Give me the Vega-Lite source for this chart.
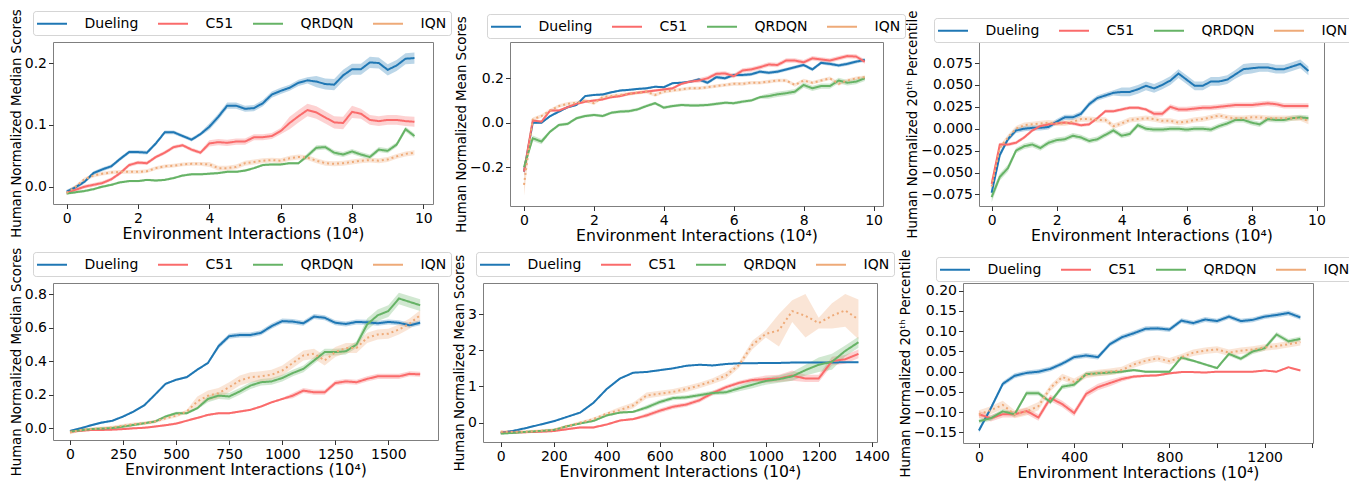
{
"background":"white",
"padding":{"left":8,"top":8,"right":5,"bottom":0},
"config":{
 "font":"DejaVu Sans",
 "view":{"stroke":"#7f7f7f","strokeWidth":1},
 "axis":{"grid":false,"domain":false,"labelFontSize":14,"labelColor":"#000","tickColor":"#333","tickSize":4.5,"labelPadding":2,"titleFontWeight":"normal","titleColor":"#000","labelFont":"DejaVu Sans","titleFont":"DejaVu Sans"},
 "axisX":{"titleFontSize":15.7,"titlePadding":1,"labelPadding":3},
 "axisY":{"titleFontSize":13.3,"titlePadding":1},
 "legend":{"symbolType":"M-2,0H2","symbolSize":225,"symbolOffset":6.5,"symbolStrokeWidth":2,"labelFontSize":14,"labelFont":"DejaVu Sans","labelColor":"#000","labelOffset":24,"columnPadding":15,"padding":4,"strokeColor":"#d5d5d5","cornerRadius":3,"fillColor":"#ffffff"}
},
"data":{"values":[
{"p":1,"a":"Dueling","x":0,"y":-0.008,"e":0.003},{"p":1,"a":"Dueling","x":0.25,"y":-0.001,"e":0.003},{"p":1,"a":"Dueling","x":0.5,"y":0.008,"e":0.003},{"p":1,"a":"Dueling","x":0.75,"y":0.022,"e":0.003},{"p":1,"a":"Dueling","x":1,"y":0.028,"e":0.003},{"p":1,"a":"Dueling","x":1.25,"y":0.033,"e":0.003},{"p":1,"a":"Dueling","x":1.5,"y":0.045,"e":0.003},{"p":1,"a":"Dueling","x":1.75,"y":0.056,"e":0.003},{"p":1,"a":"Dueling","x":2,"y":0.056,"e":0.003},{"p":1,"a":"Dueling","x":2.25,"y":0.055,"e":0.003},{"p":1,"a":"Dueling","x":2.5,"y":0.07,"e":0.003},{"p":1,"a":"Dueling","x":2.75,"y":0.088,"e":0.003},{"p":1,"a":"Dueling","x":3,"y":0.088,"e":0.003},{"p":1,"a":"Dueling","x":3.25,"y":0.082,"e":0.003},{"p":1,"a":"Dueling","x":3.5,"y":0.076,"e":0.003},{"p":1,"a":"Dueling","x":3.75,"y":0.085,"e":0.003},{"p":1,"a":"Dueling","x":4,"y":0.097,"e":0.005},{"p":1,"a":"Dueling","x":4.25,"y":0.113,"e":0.005},{"p":1,"a":"Dueling","x":4.5,"y":0.131,"e":0.005},{"p":1,"a":"Dueling","x":4.75,"y":0.131,"e":0.005},{"p":1,"a":"Dueling","x":5,"y":0.126,"e":0.005},{"p":1,"a":"Dueling","x":5.25,"y":0.127,"e":0.005},{"p":1,"a":"Dueling","x":5.5,"y":0.135,"e":0.005},{"p":1,"a":"Dueling","x":5.75,"y":0.149,"e":0.005},{"p":1,"a":"Dueling","x":6,"y":0.155,"e":0.005},{"p":1,"a":"Dueling","x":6.25,"y":0.16,"e":0.005},{"p":1,"a":"Dueling","x":6.5,"y":0.168,"e":0.005},{"p":1,"a":"Dueling","x":6.75,"y":0.172,"e":0.005},{"p":1,"a":"Dueling","x":7,"y":0.17,"e":0.009},{"p":1,"a":"Dueling","x":7.25,"y":0.166,"e":0.009},{"p":1,"a":"Dueling","x":7.5,"y":0.165,"e":0.009},{"p":1,"a":"Dueling","x":7.75,"y":0.18,"e":0.009},{"p":1,"a":"Dueling","x":8,"y":0.19,"e":0.009},{"p":1,"a":"Dueling","x":8.25,"y":0.19,"e":0.009},{"p":1,"a":"Dueling","x":8.5,"y":0.201,"e":0.009},{"p":1,"a":"Dueling","x":8.75,"y":0.2,"e":0.009},{"p":1,"a":"Dueling","x":9,"y":0.189,"e":0.009},{"p":1,"a":"Dueling","x":9.25,"y":0.196,"e":0.009},{"p":1,"a":"Dueling","x":9.5,"y":0.207,"e":0.009},{"p":1,"a":"Dueling","x":9.75,"y":0.208,"e":0.009},
{"p":1,"a":"C51","x":0,"y":-0.01,"e":0.003},{"p":1,"a":"C51","x":0.25,"y":-0.005,"e":0.003},{"p":1,"a":"C51","x":0.5,"y":0.0,"e":0.003},{"p":1,"a":"C51","x":0.75,"y":0.003,"e":0.003},{"p":1,"a":"C51","x":1,"y":0.006,"e":0.003},{"p":1,"a":"C51","x":1.25,"y":0.012,"e":0.003},{"p":1,"a":"C51","x":1.5,"y":0.022,"e":0.003},{"p":1,"a":"C51","x":1.75,"y":0.035,"e":0.003},{"p":1,"a":"C51","x":2,"y":0.039,"e":0.003},{"p":1,"a":"C51","x":2.25,"y":0.038,"e":0.003},{"p":1,"a":"C51","x":2.5,"y":0.048,"e":0.003},{"p":1,"a":"C51","x":2.75,"y":0.055,"e":0.003},{"p":1,"a":"C51","x":3,"y":0.064,"e":0.003},{"p":1,"a":"C51","x":3.25,"y":0.067,"e":0.003},{"p":1,"a":"C51","x":3.5,"y":0.06,"e":0.003},{"p":1,"a":"C51","x":3.75,"y":0.055,"e":0.003},{"p":1,"a":"C51","x":4,"y":0.07,"e":0.005},{"p":1,"a":"C51","x":4.25,"y":0.072,"e":0.005},{"p":1,"a":"C51","x":4.5,"y":0.071,"e":0.005},{"p":1,"a":"C51","x":4.75,"y":0.073,"e":0.005},{"p":1,"a":"C51","x":5,"y":0.073,"e":0.005},{"p":1,"a":"C51","x":5.25,"y":0.08,"e":0.005},{"p":1,"a":"C51","x":5.5,"y":0.08,"e":0.005},{"p":1,"a":"C51","x":5.75,"y":0.082,"e":0.005},{"p":1,"a":"C51","x":6,"y":0.09,"e":0.005},{"p":1,"a":"C51","x":6.25,"y":0.103,"e":0.01},{"p":1,"a":"C51","x":6.5,"y":0.114,"e":0.01},{"p":1,"a":"C51","x":6.75,"y":0.124,"e":0.01},{"p":1,"a":"C51","x":7,"y":0.12,"e":0.01},{"p":1,"a":"C51","x":7.25,"y":0.112,"e":0.01},{"p":1,"a":"C51","x":7.5,"y":0.104,"e":0.01},{"p":1,"a":"C51","x":7.75,"y":0.103,"e":0.01},{"p":1,"a":"C51","x":8,"y":0.121,"e":0.01},{"p":1,"a":"C51","x":8.25,"y":0.118,"e":0.008},{"p":1,"a":"C51","x":8.5,"y":0.108,"e":0.008},{"p":1,"a":"C51","x":8.75,"y":0.106,"e":0.008},{"p":1,"a":"C51","x":9,"y":0.108,"e":0.008},{"p":1,"a":"C51","x":9.25,"y":0.108,"e":0.008},{"p":1,"a":"C51","x":9.5,"y":0.106,"e":0.008},{"p":1,"a":"C51","x":9.75,"y":0.105,"e":0.008},
{"p":1,"a":"QRDQN","x":0,"y":-0.011,"e":0.002},{"p":1,"a":"QRDQN","x":0.25,"y":-0.009,"e":0.002},{"p":1,"a":"QRDQN","x":0.5,"y":-0.007,"e":0.002},{"p":1,"a":"QRDQN","x":0.75,"y":-0.004,"e":0.002},{"p":1,"a":"QRDQN","x":1,"y":0.0,"e":0.002},{"p":1,"a":"QRDQN","x":1.25,"y":0.003,"e":0.002},{"p":1,"a":"QRDQN","x":1.5,"y":0.007,"e":0.002},{"p":1,"a":"QRDQN","x":1.75,"y":0.009,"e":0.002},{"p":1,"a":"QRDQN","x":2,"y":0.009,"e":0.002},{"p":1,"a":"QRDQN","x":2.25,"y":0.011,"e":0.002},{"p":1,"a":"QRDQN","x":2.5,"y":0.01,"e":0.002},{"p":1,"a":"QRDQN","x":2.75,"y":0.011,"e":0.002},{"p":1,"a":"QRDQN","x":3,"y":0.014,"e":0.002},{"p":1,"a":"QRDQN","x":3.25,"y":0.018,"e":0.002},{"p":1,"a":"QRDQN","x":3.5,"y":0.02,"e":0.002},{"p":1,"a":"QRDQN","x":3.75,"y":0.02,"e":0.002},{"p":1,"a":"QRDQN","x":4,"y":0.021,"e":0.002},{"p":1,"a":"QRDQN","x":4.25,"y":0.022,"e":0.002},{"p":1,"a":"QRDQN","x":4.5,"y":0.024,"e":0.002},{"p":1,"a":"QRDQN","x":4.75,"y":0.024,"e":0.002},{"p":1,"a":"QRDQN","x":5,"y":0.026,"e":0.002},{"p":1,"a":"QRDQN","x":5.25,"y":0.03,"e":0.002},{"p":1,"a":"QRDQN","x":5.5,"y":0.035,"e":0.002},{"p":1,"a":"QRDQN","x":5.75,"y":0.036,"e":0.002},{"p":1,"a":"QRDQN","x":6,"y":0.036,"e":0.002},{"p":1,"a":"QRDQN","x":6.25,"y":0.038,"e":0.002},{"p":1,"a":"QRDQN","x":6.5,"y":0.038,"e":0.002},{"p":1,"a":"QRDQN","x":6.75,"y":0.05,"e":0.004},{"p":1,"a":"QRDQN","x":7,"y":0.063,"e":0.004},{"p":1,"a":"QRDQN","x":7.25,"y":0.064,"e":0.004},{"p":1,"a":"QRDQN","x":7.5,"y":0.055,"e":0.004},{"p":1,"a":"QRDQN","x":7.75,"y":0.052,"e":0.004},{"p":1,"a":"QRDQN","x":8,"y":0.057,"e":0.004},{"p":1,"a":"QRDQN","x":8.25,"y":0.052,"e":0.004},{"p":1,"a":"QRDQN","x":8.5,"y":0.048,"e":0.004},{"p":1,"a":"QRDQN","x":8.75,"y":0.06,"e":0.004},{"p":1,"a":"QRDQN","x":9,"y":0.058,"e":0.004},{"p":1,"a":"QRDQN","x":9.25,"y":0.068,"e":0.004},{"p":1,"a":"QRDQN","x":9.5,"y":0.093,"e":0.004},{"p":1,"a":"QRDQN","x":9.75,"y":0.082,"e":0.004},
{"p":1,"a":"IQN","x":0,"y":-0.01,"e":0.003},{"p":1,"a":"IQN","x":0.25,"y":0.0,"e":0.003},{"p":1,"a":"IQN","x":0.5,"y":0.012,"e":0.003},{"p":1,"a":"IQN","x":0.75,"y":0.018,"e":0.003},{"p":1,"a":"IQN","x":1,"y":0.021,"e":0.003},{"p":1,"a":"IQN","x":1.25,"y":0.023,"e":0.003},{"p":1,"a":"IQN","x":1.5,"y":0.024,"e":0.003},{"p":1,"a":"IQN","x":1.75,"y":0.024,"e":0.003},{"p":1,"a":"IQN","x":2,"y":0.024,"e":0.003},{"p":1,"a":"IQN","x":2.25,"y":0.025,"e":0.003},{"p":1,"a":"IQN","x":2.5,"y":0.03,"e":0.003},{"p":1,"a":"IQN","x":2.75,"y":0.033,"e":0.003},{"p":1,"a":"IQN","x":3,"y":0.034,"e":0.003},{"p":1,"a":"IQN","x":3.25,"y":0.036,"e":0.003},{"p":1,"a":"IQN","x":3.5,"y":0.037,"e":0.003},{"p":1,"a":"IQN","x":3.75,"y":0.037,"e":0.003},{"p":1,"a":"IQN","x":4,"y":0.036,"e":0.004},{"p":1,"a":"IQN","x":4.25,"y":0.03,"e":0.004},{"p":1,"a":"IQN","x":4.5,"y":0.03,"e":0.004},{"p":1,"a":"IQN","x":4.75,"y":0.032,"e":0.004},{"p":1,"a":"IQN","x":5,"y":0.038,"e":0.004},{"p":1,"a":"IQN","x":5.25,"y":0.04,"e":0.004},{"p":1,"a":"IQN","x":5.5,"y":0.042,"e":0.004},{"p":1,"a":"IQN","x":5.75,"y":0.043,"e":0.004},{"p":1,"a":"IQN","x":6,"y":0.042,"e":0.004},{"p":1,"a":"IQN","x":6.25,"y":0.046,"e":0.004},{"p":1,"a":"IQN","x":6.5,"y":0.048,"e":0.004},{"p":1,"a":"IQN","x":6.75,"y":0.047,"e":0.004},{"p":1,"a":"IQN","x":7,"y":0.042,"e":0.004},{"p":1,"a":"IQN","x":7.25,"y":0.038,"e":0.004},{"p":1,"a":"IQN","x":7.5,"y":0.037,"e":0.004},{"p":1,"a":"IQN","x":7.75,"y":0.038,"e":0.004},{"p":1,"a":"IQN","x":8,"y":0.04,"e":0.004},{"p":1,"a":"IQN","x":8.25,"y":0.042,"e":0.004},{"p":1,"a":"IQN","x":8.5,"y":0.043,"e":0.004},{"p":1,"a":"IQN","x":8.75,"y":0.042,"e":0.004},{"p":1,"a":"IQN","x":9,"y":0.044,"e":0.004},{"p":1,"a":"IQN","x":9.25,"y":0.049,"e":0.004},{"p":1,"a":"IQN","x":9.5,"y":0.053,"e":0.004},{"p":1,"a":"IQN","x":9.75,"y":0.055,"e":0.004},
{"p":2,"a":"Dueling","x":0,"y":-0.22,"e":0.02},{"p":2,"a":"Dueling","x":0.25,"y":0.0,"e":0.005},{"p":2,"a":"Dueling","x":0.5,"y":0.0,"e":0.005},{"p":2,"a":"Dueling","x":0.75,"y":0.03,"e":0.005},{"p":2,"a":"Dueling","x":1,"y":0.05,"e":0.005},{"p":2,"a":"Dueling","x":1.25,"y":0.07,"e":0.005},{"p":2,"a":"Dueling","x":1.5,"y":0.08,"e":0.005},{"p":2,"a":"Dueling","x":1.75,"y":0.12,"e":0.005},{"p":2,"a":"Dueling","x":2,"y":0.125,"e":0.005},{"p":2,"a":"Dueling","x":2.25,"y":0.127,"e":0.005},{"p":2,"a":"Dueling","x":2.5,"y":0.137,"e":0.005},{"p":2,"a":"Dueling","x":2.75,"y":0.145,"e":0.005},{"p":2,"a":"Dueling","x":3,"y":0.148,"e":0.005},{"p":2,"a":"Dueling","x":3.25,"y":0.152,"e":0.005},{"p":2,"a":"Dueling","x":3.5,"y":0.155,"e":0.005},{"p":2,"a":"Dueling","x":3.75,"y":0.162,"e":0.005},{"p":2,"a":"Dueling","x":4,"y":0.16,"e":0.005},{"p":2,"a":"Dueling","x":4.25,"y":0.178,"e":0.005},{"p":2,"a":"Dueling","x":4.5,"y":0.18,"e":0.005},{"p":2,"a":"Dueling","x":4.75,"y":0.185,"e":0.005},{"p":2,"a":"Dueling","x":5,"y":0.195,"e":0.008},{"p":2,"a":"Dueling","x":5.25,"y":0.18,"e":0.008},{"p":2,"a":"Dueling","x":5.5,"y":0.205,"e":0.008},{"p":2,"a":"Dueling","x":5.75,"y":0.2,"e":0.008},{"p":2,"a":"Dueling","x":6,"y":0.215,"e":0.008},{"p":2,"a":"Dueling","x":6.25,"y":0.215,"e":0.008},{"p":2,"a":"Dueling","x":6.5,"y":0.218,"e":0.008},{"p":2,"a":"Dueling","x":6.75,"y":0.23,"e":0.008},{"p":2,"a":"Dueling","x":7,"y":0.225,"e":0.008},{"p":2,"a":"Dueling","x":7.25,"y":0.23,"e":0.008},{"p":2,"a":"Dueling","x":7.5,"y":0.24,"e":0.008},{"p":2,"a":"Dueling","x":7.75,"y":0.25,"e":0.008},{"p":2,"a":"Dueling","x":8,"y":0.26,"e":0.008},{"p":2,"a":"Dueling","x":8.25,"y":0.24,"e":0.008},{"p":2,"a":"Dueling","x":8.5,"y":0.27,"e":0.008},{"p":2,"a":"Dueling","x":8.75,"y":0.265,"e":0.008},{"p":2,"a":"Dueling","x":9,"y":0.258,"e":0.008},{"p":2,"a":"Dueling","x":9.25,"y":0.265,"e":0.008},{"p":2,"a":"Dueling","x":9.5,"y":0.275,"e":0.008},{"p":2,"a":"Dueling","x":9.75,"y":0.283,"e":0.008},
{"p":2,"a":"C51","x":0,"y":-0.22,"e":0.02},{"p":2,"a":"C51","x":0.25,"y":0.01,"e":0.006},{"p":2,"a":"C51","x":0.5,"y":0.005,"e":0.006},{"p":2,"a":"C51","x":0.75,"y":0.055,"e":0.006},{"p":2,"a":"C51","x":1,"y":0.055,"e":0.006},{"p":2,"a":"C51","x":1.25,"y":0.07,"e":0.006},{"p":2,"a":"C51","x":1.5,"y":0.085,"e":0.006},{"p":2,"a":"C51","x":1.75,"y":0.095,"e":0.006},{"p":2,"a":"C51","x":2,"y":0.1,"e":0.006},{"p":2,"a":"C51","x":2.25,"y":0.105,"e":0.006},{"p":2,"a":"C51","x":2.5,"y":0.115,"e":0.006},{"p":2,"a":"C51","x":2.75,"y":0.12,"e":0.006},{"p":2,"a":"C51","x":3,"y":0.13,"e":0.006},{"p":2,"a":"C51","x":3.25,"y":0.135,"e":0.006},{"p":2,"a":"C51","x":3.5,"y":0.14,"e":0.006},{"p":2,"a":"C51","x":3.75,"y":0.145,"e":0.006},{"p":2,"a":"C51","x":4,"y":0.15,"e":0.006},{"p":2,"a":"C51","x":4.25,"y":0.155,"e":0.006},{"p":2,"a":"C51","x":4.5,"y":0.175,"e":0.006},{"p":2,"a":"C51","x":4.75,"y":0.185,"e":0.006},{"p":2,"a":"C51","x":5,"y":0.19,"e":0.01},{"p":2,"a":"C51","x":5.25,"y":0.2,"e":0.01},{"p":2,"a":"C51","x":5.5,"y":0.22,"e":0.01},{"p":2,"a":"C51","x":5.75,"y":0.222,"e":0.01},{"p":2,"a":"C51","x":6,"y":0.21,"e":0.01},{"p":2,"a":"C51","x":6.25,"y":0.235,"e":0.01},{"p":2,"a":"C51","x":6.5,"y":0.24,"e":0.01},{"p":2,"a":"C51","x":6.75,"y":0.25,"e":0.01},{"p":2,"a":"C51","x":7,"y":0.262,"e":0.01},{"p":2,"a":"C51","x":7.25,"y":0.26,"e":0.01},{"p":2,"a":"C51","x":7.5,"y":0.28,"e":0.01},{"p":2,"a":"C51","x":7.75,"y":0.28,"e":0.01},{"p":2,"a":"C51","x":8,"y":0.272,"e":0.01},{"p":2,"a":"C51","x":8.25,"y":0.29,"e":0.01},{"p":2,"a":"C51","x":8.5,"y":0.285,"e":0.01},{"p":2,"a":"C51","x":8.75,"y":0.28,"e":0.01},{"p":2,"a":"C51","x":9,"y":0.29,"e":0.01},{"p":2,"a":"C51","x":9.25,"y":0.3,"e":0.01},{"p":2,"a":"C51","x":9.5,"y":0.298,"e":0.01},{"p":2,"a":"C51","x":9.75,"y":0.275,"e":0.01},
{"p":2,"a":"QRDQN","x":0,"y":-0.2,"e":0.02},{"p":2,"a":"QRDQN","x":0.25,"y":-0.07,"e":0.012},{"p":2,"a":"QRDQN","x":0.5,"y":-0.085,"e":0.012},{"p":2,"a":"QRDQN","x":0.75,"y":-0.04,"e":0.007},{"p":2,"a":"QRDQN","x":1,"y":-0.01,"e":0.007},{"p":2,"a":"QRDQN","x":1.25,"y":-0.005,"e":0.007},{"p":2,"a":"QRDQN","x":1.5,"y":0.02,"e":0.007},{"p":2,"a":"QRDQN","x":1.75,"y":0.03,"e":0.007},{"p":2,"a":"QRDQN","x":2,"y":0.035,"e":0.007},{"p":2,"a":"QRDQN","x":2.25,"y":0.03,"e":0.007},{"p":2,"a":"QRDQN","x":2.5,"y":0.045,"e":0.007},{"p":2,"a":"QRDQN","x":2.75,"y":0.05,"e":0.007},{"p":2,"a":"QRDQN","x":3,"y":0.052,"e":0.007},{"p":2,"a":"QRDQN","x":3.25,"y":0.06,"e":0.007},{"p":2,"a":"QRDQN","x":3.5,"y":0.075,"e":0.007},{"p":2,"a":"QRDQN","x":3.75,"y":0.088,"e":0.007},{"p":2,"a":"QRDQN","x":4,"y":0.068,"e":0.007},{"p":2,"a":"QRDQN","x":4.25,"y":0.075,"e":0.007},{"p":2,"a":"QRDQN","x":4.5,"y":0.08,"e":0.007},{"p":2,"a":"QRDQN","x":4.75,"y":0.078,"e":0.007},{"p":2,"a":"QRDQN","x":5,"y":0.078,"e":0.007},{"p":2,"a":"QRDQN","x":5.25,"y":0.08,"e":0.007},{"p":2,"a":"QRDQN","x":5.5,"y":0.085,"e":0.007},{"p":2,"a":"QRDQN","x":5.75,"y":0.09,"e":0.007},{"p":2,"a":"QRDQN","x":6,"y":0.088,"e":0.007},{"p":2,"a":"QRDQN","x":6.25,"y":0.095,"e":0.007},{"p":2,"a":"QRDQN","x":6.5,"y":0.1,"e":0.007},{"p":2,"a":"QRDQN","x":6.75,"y":0.115,"e":0.007},{"p":2,"a":"QRDQN","x":7,"y":0.12,"e":0.012},{"p":2,"a":"QRDQN","x":7.25,"y":0.128,"e":0.012},{"p":2,"a":"QRDQN","x":7.5,"y":0.133,"e":0.012},{"p":2,"a":"QRDQN","x":7.75,"y":0.14,"e":0.012},{"p":2,"a":"QRDQN","x":8,"y":0.17,"e":0.012},{"p":2,"a":"QRDQN","x":8.25,"y":0.155,"e":0.012},{"p":2,"a":"QRDQN","x":8.5,"y":0.165,"e":0.012},{"p":2,"a":"QRDQN","x":8.75,"y":0.165,"e":0.012},{"p":2,"a":"QRDQN","x":9,"y":0.19,"e":0.012},{"p":2,"a":"QRDQN","x":9.25,"y":0.18,"e":0.012},{"p":2,"a":"QRDQN","x":9.5,"y":0.185,"e":0.012},{"p":2,"a":"QRDQN","x":9.75,"y":0.2,"e":0.012},
{"p":2,"a":"IQN","x":0,"y":-0.28,"e":0.05},{"p":2,"a":"IQN","x":0.25,"y":0.015,"e":0.008},{"p":2,"a":"IQN","x":0.5,"y":0.03,"e":0.008},{"p":2,"a":"IQN","x":0.75,"y":0.055,"e":0.008},{"p":2,"a":"IQN","x":1,"y":0.075,"e":0.008},{"p":2,"a":"IQN","x":1.25,"y":0.085,"e":0.008},{"p":2,"a":"IQN","x":1.5,"y":0.09,"e":0.008},{"p":2,"a":"IQN","x":1.75,"y":0.1,"e":0.008},{"p":2,"a":"IQN","x":2,"y":0.088,"e":0.008},{"p":2,"a":"IQN","x":2.25,"y":0.115,"e":0.008},{"p":2,"a":"IQN","x":2.5,"y":0.12,"e":0.008},{"p":2,"a":"IQN","x":2.75,"y":0.125,"e":0.008},{"p":2,"a":"IQN","x":3,"y":0.13,"e":0.008},{"p":2,"a":"IQN","x":3.25,"y":0.135,"e":0.008},{"p":2,"a":"IQN","x":3.5,"y":0.14,"e":0.008},{"p":2,"a":"IQN","x":3.75,"y":0.125,"e":0.008},{"p":2,"a":"IQN","x":4,"y":0.14,"e":0.008},{"p":2,"a":"IQN","x":4.25,"y":0.145,"e":0.008},{"p":2,"a":"IQN","x":4.5,"y":0.15,"e":0.008},{"p":2,"a":"IQN","x":4.75,"y":0.155,"e":0.008},{"p":2,"a":"IQN","x":5,"y":0.155,"e":0.008},{"p":2,"a":"IQN","x":5.25,"y":0.16,"e":0.008},{"p":2,"a":"IQN","x":5.5,"y":0.165,"e":0.008},{"p":2,"a":"IQN","x":5.75,"y":0.17,"e":0.008},{"p":2,"a":"IQN","x":6,"y":0.175,"e":0.008},{"p":2,"a":"IQN","x":6.25,"y":0.175,"e":0.008},{"p":2,"a":"IQN","x":6.5,"y":0.18,"e":0.008},{"p":2,"a":"IQN","x":6.75,"y":0.18,"e":0.008},{"p":2,"a":"IQN","x":7,"y":0.185,"e":0.008},{"p":2,"a":"IQN","x":7.25,"y":0.19,"e":0.008},{"p":2,"a":"IQN","x":7.5,"y":0.19,"e":0.008},{"p":2,"a":"IQN","x":7.75,"y":0.17,"e":0.008},{"p":2,"a":"IQN","x":8,"y":0.19,"e":0.008},{"p":2,"a":"IQN","x":8.25,"y":0.18,"e":0.008},{"p":2,"a":"IQN","x":8.5,"y":0.19,"e":0.008},{"p":2,"a":"IQN","x":8.75,"y":0.2,"e":0.008},{"p":2,"a":"IQN","x":9,"y":0.175,"e":0.008},{"p":2,"a":"IQN","x":9.25,"y":0.19,"e":0.008},{"p":2,"a":"IQN","x":9.5,"y":0.2,"e":0.008},{"p":2,"a":"IQN","x":9.75,"y":0.205,"e":0.008},
{"p":3,"a":"Dueling","x":0,"y":-0.073,"e":0.003},{"p":3,"a":"Dueling","x":0.25,"y":-0.03,"e":0.003},{"p":3,"a":"Dueling","x":0.5,"y":-0.012,"e":0.003},{"p":3,"a":"Dueling","x":0.75,"y":-0.002,"e":0.003},{"p":3,"a":"Dueling","x":1,"y":0.0,"e":0.003},{"p":3,"a":"Dueling","x":1.25,"y":0.001,"e":0.003},{"p":3,"a":"Dueling","x":1.5,"y":0.001,"e":0.003},{"p":3,"a":"Dueling","x":1.75,"y":0.002,"e":0.003},{"p":3,"a":"Dueling","x":2,"y":0.008,"e":0.003},{"p":3,"a":"Dueling","x":2.25,"y":0.013,"e":0.003},{"p":3,"a":"Dueling","x":2.5,"y":0.013,"e":0.003},{"p":3,"a":"Dueling","x":2.75,"y":0.017,"e":0.003},{"p":3,"a":"Dueling","x":3,"y":0.028,"e":0.003},{"p":3,"a":"Dueling","x":3.25,"y":0.035,"e":0.003},{"p":3,"a":"Dueling","x":3.5,"y":0.038,"e":0.003},{"p":3,"a":"Dueling","x":3.75,"y":0.041,"e":0.003},{"p":3,"a":"Dueling","x":4,"y":0.042,"e":0.005},{"p":3,"a":"Dueling","x":4.25,"y":0.042,"e":0.005},{"p":3,"a":"Dueling","x":4.5,"y":0.045,"e":0.005},{"p":3,"a":"Dueling","x":4.75,"y":0.049,"e":0.005},{"p":3,"a":"Dueling","x":5,"y":0.046,"e":0.005},{"p":3,"a":"Dueling","x":5.25,"y":0.05,"e":0.005},{"p":3,"a":"Dueling","x":5.5,"y":0.055,"e":0.005},{"p":3,"a":"Dueling","x":5.75,"y":0.063,"e":0.005},{"p":3,"a":"Dueling","x":6,"y":0.056,"e":0.005},{"p":3,"a":"Dueling","x":6.25,"y":0.049,"e":0.005},{"p":3,"a":"Dueling","x":6.5,"y":0.049,"e":0.005},{"p":3,"a":"Dueling","x":6.75,"y":0.054,"e":0.005},{"p":3,"a":"Dueling","x":7,"y":0.054,"e":0.005},{"p":3,"a":"Dueling","x":7.25,"y":0.056,"e":0.005},{"p":3,"a":"Dueling","x":7.5,"y":0.062,"e":0.005},{"p":3,"a":"Dueling","x":7.75,"y":0.068,"e":0.006},{"p":3,"a":"Dueling","x":8,"y":0.069,"e":0.006},{"p":3,"a":"Dueling","x":8.25,"y":0.07,"e":0.005},{"p":3,"a":"Dueling","x":8.5,"y":0.07,"e":0.005},{"p":3,"a":"Dueling","x":8.75,"y":0.068,"e":0.005},{"p":3,"a":"Dueling","x":9,"y":0.068,"e":0.005},{"p":3,"a":"Dueling","x":9.25,"y":0.071,"e":0.005},{"p":3,"a":"Dueling","x":9.5,"y":0.074,"e":0.005},{"p":3,"a":"Dueling","x":9.75,"y":0.066,"e":0.005},
{"p":3,"a":"C51","x":0,"y":-0.063,"e":0.005},{"p":3,"a":"C51","x":0.25,"y":-0.018,"e":0.002},{"p":3,"a":"C51","x":0.5,"y":-0.018,"e":0.002},{"p":3,"a":"C51","x":0.75,"y":-0.016,"e":0.002},{"p":3,"a":"C51","x":1,"y":-0.01,"e":0.002},{"p":3,"a":"C51","x":1.25,"y":-0.002,"e":0.002},{"p":3,"a":"C51","x":1.5,"y":0.003,"e":0.002},{"p":3,"a":"C51","x":1.75,"y":0.005,"e":0.002},{"p":3,"a":"C51","x":2,"y":0.006,"e":0.002},{"p":3,"a":"C51","x":2.25,"y":0.007,"e":0.002},{"p":3,"a":"C51","x":2.5,"y":0.006,"e":0.002},{"p":3,"a":"C51","x":2.75,"y":0.004,"e":0.002},{"p":3,"a":"C51","x":3,"y":0.005,"e":0.002},{"p":3,"a":"C51","x":3.25,"y":0.012,"e":0.002},{"p":3,"a":"C51","x":3.5,"y":0.02,"e":0.002},{"p":3,"a":"C51","x":3.75,"y":0.02,"e":0.002},{"p":3,"a":"C51","x":4,"y":0.022,"e":0.002},{"p":3,"a":"C51","x":4.25,"y":0.024,"e":0.002},{"p":3,"a":"C51","x":4.5,"y":0.024,"e":0.002},{"p":3,"a":"C51","x":4.75,"y":0.022,"e":0.002},{"p":3,"a":"C51","x":5,"y":0.017,"e":0.003},{"p":3,"a":"C51","x":5.25,"y":0.017,"e":0.003},{"p":3,"a":"C51","x":5.5,"y":0.025,"e":0.003},{"p":3,"a":"C51","x":5.75,"y":0.022,"e":0.003},{"p":3,"a":"C51","x":6,"y":0.022,"e":0.003},{"p":3,"a":"C51","x":6.25,"y":0.023,"e":0.003},{"p":3,"a":"C51","x":6.5,"y":0.024,"e":0.003},{"p":3,"a":"C51","x":6.75,"y":0.024,"e":0.003},{"p":3,"a":"C51","x":7,"y":0.025,"e":0.003},{"p":3,"a":"C51","x":7.25,"y":0.026,"e":0.003},{"p":3,"a":"C51","x":7.5,"y":0.027,"e":0.003},{"p":3,"a":"C51","x":7.75,"y":0.027,"e":0.003},{"p":3,"a":"C51","x":8,"y":0.027,"e":0.003},{"p":3,"a":"C51","x":8.25,"y":0.028,"e":0.003},{"p":3,"a":"C51","x":8.5,"y":0.029,"e":0.003},{"p":3,"a":"C51","x":8.75,"y":0.028,"e":0.003},{"p":3,"a":"C51","x":9,"y":0.026,"e":0.003},{"p":3,"a":"C51","x":9.25,"y":0.026,"e":0.003},{"p":3,"a":"C51","x":9.5,"y":0.026,"e":0.003},{"p":3,"a":"C51","x":9.75,"y":0.026,"e":0.003},
{"p":3,"a":"QRDQN","x":0,"y":-0.078,"e":0.006},{"p":3,"a":"QRDQN","x":0.25,"y":-0.055,"e":0.004},{"p":3,"a":"QRDQN","x":0.5,"y":-0.045,"e":0.004},{"p":3,"a":"QRDQN","x":0.75,"y":-0.025,"e":0.003},{"p":3,"a":"QRDQN","x":1,"y":-0.02,"e":0.003},{"p":3,"a":"QRDQN","x":1.25,"y":-0.018,"e":0.003},{"p":3,"a":"QRDQN","x":1.5,"y":-0.022,"e":0.003},{"p":3,"a":"QRDQN","x":1.75,"y":-0.016,"e":0.003},{"p":3,"a":"QRDQN","x":2,"y":-0.013,"e":0.003},{"p":3,"a":"QRDQN","x":2.25,"y":-0.012,"e":0.003},{"p":3,"a":"QRDQN","x":2.5,"y":-0.008,"e":0.003},{"p":3,"a":"QRDQN","x":2.75,"y":-0.01,"e":0.003},{"p":3,"a":"QRDQN","x":3,"y":-0.014,"e":0.003},{"p":3,"a":"QRDQN","x":3.25,"y":-0.012,"e":0.003},{"p":3,"a":"QRDQN","x":3.5,"y":-0.007,"e":0.003},{"p":3,"a":"QRDQN","x":3.75,"y":-0.002,"e":0.003},{"p":3,"a":"QRDQN","x":4,"y":-0.008,"e":0.003},{"p":3,"a":"QRDQN","x":4.25,"y":-0.006,"e":0.003},{"p":3,"a":"QRDQN","x":4.5,"y":0.004,"e":0.003},{"p":3,"a":"QRDQN","x":4.75,"y":0.0,"e":0.003},{"p":3,"a":"QRDQN","x":5,"y":-0.001,"e":0.003},{"p":3,"a":"QRDQN","x":5.25,"y":-0.001,"e":0.003},{"p":3,"a":"QRDQN","x":5.5,"y":0.0,"e":0.003},{"p":3,"a":"QRDQN","x":5.75,"y":0.0,"e":0.003},{"p":3,"a":"QRDQN","x":6,"y":-0.001,"e":0.003},{"p":3,"a":"QRDQN","x":6.25,"y":0.0,"e":0.003},{"p":3,"a":"QRDQN","x":6.5,"y":0.0,"e":0.003},{"p":3,"a":"QRDQN","x":6.75,"y":-0.001,"e":0.003},{"p":3,"a":"QRDQN","x":7,"y":0.003,"e":0.003},{"p":3,"a":"QRDQN","x":7.25,"y":0.006,"e":0.003},{"p":3,"a":"QRDQN","x":7.5,"y":0.01,"e":0.003},{"p":3,"a":"QRDQN","x":7.75,"y":0.01,"e":0.003},{"p":3,"a":"QRDQN","x":8,"y":0.007,"e":0.003},{"p":3,"a":"QRDQN","x":8.25,"y":0.005,"e":0.003},{"p":3,"a":"QRDQN","x":8.5,"y":0.011,"e":0.003},{"p":3,"a":"QRDQN","x":8.75,"y":0.01,"e":0.003},{"p":3,"a":"QRDQN","x":9,"y":0.01,"e":0.003},{"p":3,"a":"QRDQN","x":9.25,"y":0.012,"e":0.003},{"p":3,"a":"QRDQN","x":9.5,"y":0.013,"e":0.003},{"p":3,"a":"QRDQN","x":9.75,"y":0.012,"e":0.003},
{"p":3,"a":"IQN","x":0,"y":-0.066,"e":0.004},{"p":3,"a":"IQN","x":0.25,"y":-0.022,"e":0.003},{"p":3,"a":"IQN","x":0.5,"y":-0.01,"e":0.003},{"p":3,"a":"IQN","x":0.75,"y":0.0,"e":0.003},{"p":3,"a":"IQN","x":1,"y":0.004,"e":0.003},{"p":3,"a":"IQN","x":1.25,"y":0.005,"e":0.003},{"p":3,"a":"IQN","x":1.5,"y":0.006,"e":0.003},{"p":3,"a":"IQN","x":1.75,"y":0.007,"e":0.003},{"p":3,"a":"IQN","x":2,"y":0.006,"e":0.003},{"p":3,"a":"IQN","x":2.25,"y":0.006,"e":0.003},{"p":3,"a":"IQN","x":2.5,"y":0.008,"e":0.003},{"p":3,"a":"IQN","x":2.75,"y":0.011,"e":0.003},{"p":3,"a":"IQN","x":3,"y":0.011,"e":0.003},{"p":3,"a":"IQN","x":3.25,"y":0.01,"e":0.003},{"p":3,"a":"IQN","x":3.5,"y":0.01,"e":0.003},{"p":3,"a":"IQN","x":3.75,"y":0.003,"e":0.003},{"p":3,"a":"IQN","x":4,"y":0.006,"e":0.003},{"p":3,"a":"IQN","x":4.25,"y":0.01,"e":0.003},{"p":3,"a":"IQN","x":4.5,"y":0.011,"e":0.003},{"p":3,"a":"IQN","x":4.75,"y":0.012,"e":0.003},{"p":3,"a":"IQN","x":5,"y":0.011,"e":0.003},{"p":3,"a":"IQN","x":5.25,"y":0.009,"e":0.003},{"p":3,"a":"IQN","x":5.5,"y":0.009,"e":0.003},{"p":3,"a":"IQN","x":5.75,"y":0.007,"e":0.003},{"p":3,"a":"IQN","x":6,"y":0.008,"e":0.003},{"p":3,"a":"IQN","x":6.25,"y":0.01,"e":0.003},{"p":3,"a":"IQN","x":6.5,"y":0.011,"e":0.003},{"p":3,"a":"IQN","x":6.75,"y":0.013,"e":0.003},{"p":3,"a":"IQN","x":7,"y":0.015,"e":0.003},{"p":3,"a":"IQN","x":7.25,"y":0.013,"e":0.003},{"p":3,"a":"IQN","x":7.5,"y":0.012,"e":0.003},{"p":3,"a":"IQN","x":7.75,"y":0.012,"e":0.003},{"p":3,"a":"IQN","x":8,"y":0.013,"e":0.003},{"p":3,"a":"IQN","x":8.25,"y":0.013,"e":0.003},{"p":3,"a":"IQN","x":8.5,"y":0.012,"e":0.003},{"p":3,"a":"IQN","x":8.75,"y":0.012,"e":0.003},{"p":3,"a":"IQN","x":9,"y":0.012,"e":0.003},{"p":3,"a":"IQN","x":9.25,"y":0.012,"e":0.003},{"p":3,"a":"IQN","x":9.5,"y":0.012,"e":0.003},{"p":3,"a":"IQN","x":9.75,"y":0.009,"e":0.004},
{"p":4,"a":"Dueling","x":0,"y":-0.016,"e":0.006},{"p":4,"a":"Dueling","x":50,"y":0.0,"e":0.006},{"p":4,"a":"Dueling","x":100,"y":0.018,"e":0.006},{"p":4,"a":"Dueling","x":150,"y":0.034,"e":0.006},{"p":4,"a":"Dueling","x":200,"y":0.045,"e":0.006},{"p":4,"a":"Dueling","x":250,"y":0.07,"e":0.006},{"p":4,"a":"Dueling","x":300,"y":0.1,"e":0.006},{"p":4,"a":"Dueling","x":350,"y":0.137,"e":0.006},{"p":4,"a":"Dueling","x":400,"y":0.2,"e":0.006},{"p":4,"a":"Dueling","x":450,"y":0.265,"e":0.006},{"p":4,"a":"Dueling","x":500,"y":0.29,"e":0.006},{"p":4,"a":"Dueling","x":550,"y":0.305,"e":0.006},{"p":4,"a":"Dueling","x":600,"y":0.35,"e":0.006},{"p":4,"a":"Dueling","x":650,"y":0.39,"e":0.006},{"p":4,"a":"Dueling","x":700,"y":0.49,"e":0.015},{"p":4,"a":"Dueling","x":750,"y":0.55,"e":0.015},{"p":4,"a":"Dueling","x":800,"y":0.557,"e":0.015},{"p":4,"a":"Dueling","x":850,"y":0.557,"e":0.015},{"p":4,"a":"Dueling","x":900,"y":0.57,"e":0.015},{"p":4,"a":"Dueling","x":950,"y":0.61,"e":0.015},{"p":4,"a":"Dueling","x":1000,"y":0.64,"e":0.015},{"p":4,"a":"Dueling","x":1050,"y":0.637,"e":0.015},{"p":4,"a":"Dueling","x":1100,"y":0.627,"e":0.015},{"p":4,"a":"Dueling","x":1150,"y":0.667,"e":0.015},{"p":4,"a":"Dueling","x":1200,"y":0.66,"e":0.015},{"p":4,"a":"Dueling","x":1250,"y":0.63,"e":0.015},{"p":4,"a":"Dueling","x":1300,"y":0.623,"e":0.015},{"p":4,"a":"Dueling","x":1350,"y":0.635,"e":0.015},{"p":4,"a":"Dueling","x":1400,"y":0.633,"e":0.015},{"p":4,"a":"Dueling","x":1450,"y":0.627,"e":0.015},{"p":4,"a":"Dueling","x":1500,"y":0.635,"e":0.015},{"p":4,"a":"Dueling","x":1550,"y":0.63,"e":0.015},{"p":4,"a":"Dueling","x":1600,"y":0.615,"e":0.015},{"p":4,"a":"Dueling","x":1650,"y":0.63,"e":0.015},
{"p":4,"a":"C51","x":0,"y":-0.02,"e":0.006},{"p":4,"a":"C51","x":50,"y":-0.015,"e":0.006},{"p":4,"a":"C51","x":100,"y":-0.01,"e":0.006},{"p":4,"a":"C51","x":150,"y":-0.01,"e":0.006},{"p":4,"a":"C51","x":200,"y":-0.008,"e":0.006},{"p":4,"a":"C51","x":250,"y":-0.005,"e":0.006},{"p":4,"a":"C51","x":300,"y":0.0,"e":0.006},{"p":4,"a":"C51","x":350,"y":0.003,"e":0.006},{"p":4,"a":"C51","x":400,"y":0.01,"e":0.006},{"p":4,"a":"C51","x":450,"y":0.018,"e":0.006},{"p":4,"a":"C51","x":500,"y":0.028,"e":0.006},{"p":4,"a":"C51","x":550,"y":0.045,"e":0.006},{"p":4,"a":"C51","x":600,"y":0.062,"e":0.006},{"p":4,"a":"C51","x":650,"y":0.08,"e":0.006},{"p":4,"a":"C51","x":700,"y":0.09,"e":0.006},{"p":4,"a":"C51","x":750,"y":0.09,"e":0.006},{"p":4,"a":"C51","x":800,"y":0.1,"e":0.006},{"p":4,"a":"C51","x":850,"y":0.11,"e":0.006},{"p":4,"a":"C51","x":900,"y":0.13,"e":0.006},{"p":4,"a":"C51","x":950,"y":0.155,"e":0.006},{"p":4,"a":"C51","x":1000,"y":0.175,"e":0.006},{"p":4,"a":"C51","x":1050,"y":0.195,"e":0.015},{"p":4,"a":"C51","x":1100,"y":0.225,"e":0.015},{"p":4,"a":"C51","x":1150,"y":0.215,"e":0.015},{"p":4,"a":"C51","x":1200,"y":0.215,"e":0.015},{"p":4,"a":"C51","x":1250,"y":0.27,"e":0.015},{"p":4,"a":"C51","x":1300,"y":0.28,"e":0.015},{"p":4,"a":"C51","x":1350,"y":0.275,"e":0.015},{"p":4,"a":"C51","x":1400,"y":0.295,"e":0.015},{"p":4,"a":"C51","x":1450,"y":0.31,"e":0.015},{"p":4,"a":"C51","x":1500,"y":0.31,"e":0.015},{"p":4,"a":"C51","x":1550,"y":0.31,"e":0.015},{"p":4,"a":"C51","x":1600,"y":0.325,"e":0.015},{"p":4,"a":"C51","x":1650,"y":0.322,"e":0.015},
{"p":4,"a":"QRDQN","x":0,"y":-0.02,"e":0.008},{"p":4,"a":"QRDQN","x":50,"y":-0.012,"e":0.008},{"p":4,"a":"QRDQN","x":100,"y":-0.005,"e":0.008},{"p":4,"a":"QRDQN","x":150,"y":-0.002,"e":0.008},{"p":4,"a":"QRDQN","x":200,"y":0.002,"e":0.008},{"p":4,"a":"QRDQN","x":250,"y":0.01,"e":0.008},{"p":4,"a":"QRDQN","x":300,"y":0.02,"e":0.008},{"p":4,"a":"QRDQN","x":350,"y":0.03,"e":0.008},{"p":4,"a":"QRDQN","x":400,"y":0.04,"e":0.008},{"p":4,"a":"QRDQN","x":450,"y":0.07,"e":0.008},{"p":4,"a":"QRDQN","x":500,"y":0.09,"e":0.008},{"p":4,"a":"QRDQN","x":550,"y":0.09,"e":0.008},{"p":4,"a":"QRDQN","x":600,"y":0.12,"e":0.008},{"p":4,"a":"QRDQN","x":650,"y":0.175,"e":0.02},{"p":4,"a":"QRDQN","x":700,"y":0.195,"e":0.02},{"p":4,"a":"QRDQN","x":750,"y":0.19,"e":0.02},{"p":4,"a":"QRDQN","x":800,"y":0.22,"e":0.02},{"p":4,"a":"QRDQN","x":850,"y":0.255,"e":0.02},{"p":4,"a":"QRDQN","x":900,"y":0.275,"e":0.02},{"p":4,"a":"QRDQN","x":950,"y":0.28,"e":0.02},{"p":4,"a":"QRDQN","x":1000,"y":0.3,"e":0.02},{"p":4,"a":"QRDQN","x":1050,"y":0.33,"e":0.02},{"p":4,"a":"QRDQN","x":1100,"y":0.355,"e":0.02},{"p":4,"a":"QRDQN","x":1150,"y":0.405,"e":0.02},{"p":4,"a":"QRDQN","x":1200,"y":0.455,"e":0.02},{"p":4,"a":"QRDQN","x":1250,"y":0.455,"e":0.02},{"p":4,"a":"QRDQN","x":1300,"y":0.46,"e":0.02},{"p":4,"a":"QRDQN","x":1350,"y":0.5,"e":0.02},{"p":4,"a":"QRDQN","x":1400,"y":0.62,"e":0.035},{"p":4,"a":"QRDQN","x":1450,"y":0.675,"e":0.035},{"p":4,"a":"QRDQN","x":1500,"y":0.7,"e":0.035},{"p":4,"a":"QRDQN","x":1550,"y":0.775,"e":0.035},{"p":4,"a":"QRDQN","x":1600,"y":0.755,"e":0.035},{"p":4,"a":"QRDQN","x":1650,"y":0.735,"e":0.035},
{"p":4,"a":"IQN","x":0,"y":-0.025,"e":0.01},{"p":4,"a":"IQN","x":50,"y":-0.01,"e":0.01},{"p":4,"a":"IQN","x":100,"y":-0.005,"e":0.01},{"p":4,"a":"IQN","x":150,"y":0.0,"e":0.01},{"p":4,"a":"IQN","x":200,"y":0.005,"e":0.01},{"p":4,"a":"IQN","x":250,"y":0.015,"e":0.01},{"p":4,"a":"IQN","x":300,"y":0.025,"e":0.01},{"p":4,"a":"IQN","x":350,"y":0.03,"e":0.01},{"p":4,"a":"IQN","x":400,"y":0.04,"e":0.01},{"p":4,"a":"IQN","x":450,"y":0.06,"e":0.01},{"p":4,"a":"IQN","x":500,"y":0.075,"e":0.01},{"p":4,"a":"IQN","x":550,"y":0.1,"e":0.01},{"p":4,"a":"IQN","x":600,"y":0.16,"e":0.03},{"p":4,"a":"IQN","x":650,"y":0.195,"e":0.03},{"p":4,"a":"IQN","x":700,"y":0.21,"e":0.03},{"p":4,"a":"IQN","x":750,"y":0.245,"e":0.03},{"p":4,"a":"IQN","x":800,"y":0.285,"e":0.03},{"p":4,"a":"IQN","x":850,"y":0.305,"e":0.03},{"p":4,"a":"IQN","x":900,"y":0.31,"e":0.03},{"p":4,"a":"IQN","x":950,"y":0.32,"e":0.03},{"p":4,"a":"IQN","x":1000,"y":0.345,"e":0.03},{"p":4,"a":"IQN","x":1050,"y":0.39,"e":0.03},{"p":4,"a":"IQN","x":1100,"y":0.435,"e":0.03},{"p":4,"a":"IQN","x":1150,"y":0.445,"e":0.03},{"p":4,"a":"IQN","x":1200,"y":0.405,"e":0.03},{"p":4,"a":"IQN","x":1250,"y":0.455,"e":0.03},{"p":4,"a":"IQN","x":1300,"y":0.48,"e":0.03},{"p":4,"a":"IQN","x":1350,"y":0.48,"e":0.03},{"p":4,"a":"IQN","x":1400,"y":0.54,"e":0.03},{"p":4,"a":"IQN","x":1450,"y":0.56,"e":0.03},{"p":4,"a":"IQN","x":1500,"y":0.565,"e":0.03},{"p":4,"a":"IQN","x":1550,"y":0.59,"e":0.03},{"p":4,"a":"IQN","x":1600,"y":0.625,"e":0.03},{"p":4,"a":"IQN","x":1650,"y":0.675,"e":0.03},
{"p":5,"a":"Dueling","x":0,"y":-0.28,"e":0.02},{"p":5,"a":"Dueling","x":50,"y":-0.22,"e":0.02},{"p":5,"a":"Dueling","x":100,"y":-0.14,"e":0.02},{"p":5,"a":"Dueling","x":150,"y":-0.05,"e":0.02},{"p":5,"a":"Dueling","x":200,"y":0.04,"e":0.02},{"p":5,"a":"Dueling","x":250,"y":0.16,"e":0.02},{"p":5,"a":"Dueling","x":300,"y":0.28,"e":0.02},{"p":5,"a":"Dueling","x":350,"y":0.55,"e":0.02},{"p":5,"a":"Dueling","x":400,"y":0.93,"e":0.02},{"p":5,"a":"Dueling","x":450,"y":1.22,"e":0.03},{"p":5,"a":"Dueling","x":500,"y":1.38,"e":0.02},{"p":5,"a":"Dueling","x":550,"y":1.4,"e":0.02},{"p":5,"a":"Dueling","x":600,"y":1.45,"e":0.02},{"p":5,"a":"Dueling","x":650,"y":1.5,"e":0.02},{"p":5,"a":"Dueling","x":700,"y":1.57,"e":0.02},{"p":5,"a":"Dueling","x":750,"y":1.6,"e":0.02},{"p":5,"a":"Dueling","x":800,"y":1.58,"e":0.02},{"p":5,"a":"Dueling","x":850,"y":1.62,"e":0.02},{"p":5,"a":"Dueling","x":900,"y":1.64,"e":0.02},{"p":5,"a":"Dueling","x":950,"y":1.64,"e":0.02},{"p":5,"a":"Dueling","x":1000,"y":1.65,"e":0.02},{"p":5,"a":"Dueling","x":1050,"y":1.65,"e":0.02},{"p":5,"a":"Dueling","x":1100,"y":1.66,"e":0.02},{"p":5,"a":"Dueling","x":1150,"y":1.66,"e":0.02},{"p":5,"a":"Dueling","x":1200,"y":1.66,"e":0.02},{"p":5,"a":"Dueling","x":1250,"y":1.66,"e":0.02},{"p":5,"a":"Dueling","x":1300,"y":1.67,"e":0.02},{"p":5,"a":"Dueling","x":1350,"y":1.67,"e":0.02},
{"p":5,"a":"C51","x":0,"y":-0.27,"e":0.03},{"p":5,"a":"C51","x":50,"y":-0.27,"e":0.03},{"p":5,"a":"C51","x":100,"y":-0.26,"e":0.03},{"p":5,"a":"C51","x":150,"y":-0.25,"e":0.03},{"p":5,"a":"C51","x":200,"y":-0.23,"e":0.03},{"p":5,"a":"C51","x":250,"y":-0.18,"e":0.03},{"p":5,"a":"C51","x":300,"y":-0.13,"e":0.03},{"p":5,"a":"C51","x":350,"y":-0.13,"e":0.03},{"p":5,"a":"C51","x":400,"y":-0.05,"e":0.03},{"p":5,"a":"C51","x":450,"y":0.06,"e":0.03},{"p":5,"a":"C51","x":500,"y":0.1,"e":0.03},{"p":5,"a":"C51","x":550,"y":0.2,"e":0.06},{"p":5,"a":"C51","x":600,"y":0.33,"e":0.06},{"p":5,"a":"C51","x":650,"y":0.44,"e":0.06},{"p":5,"a":"C51","x":700,"y":0.5,"e":0.06},{"p":5,"a":"C51","x":750,"y":0.62,"e":0.06},{"p":5,"a":"C51","x":800,"y":0.82,"e":0.06},{"p":5,"a":"C51","x":850,"y":0.98,"e":0.06},{"p":5,"a":"C51","x":900,"y":1.1,"e":0.06},{"p":5,"a":"C51","x":950,"y":1.18,"e":0.06},{"p":5,"a":"C51","x":1000,"y":1.2,"e":0.1},{"p":5,"a":"C51","x":1050,"y":1.22,"e":0.1},{"p":5,"a":"C51","x":1100,"y":1.3,"e":0.14},{"p":5,"a":"C51","x":1150,"y":1.22,"e":0.1},{"p":5,"a":"C51","x":1200,"y":1.22,"e":0.1},{"p":5,"a":"C51","x":1250,"y":1.7,"e":0.12},{"p":5,"a":"C51","x":1300,"y":1.75,"e":0.12},{"p":5,"a":"C51","x":1350,"y":1.9,"e":0.12},
{"p":5,"a":"QRDQN","x":0,"y":-0.3,"e":0.03},{"p":5,"a":"QRDQN","x":50,"y":-0.28,"e":0.03},{"p":5,"a":"QRDQN","x":100,"y":-0.25,"e":0.03},{"p":5,"a":"QRDQN","x":150,"y":-0.23,"e":0.03},{"p":5,"a":"QRDQN","x":200,"y":-0.2,"e":0.03},{"p":5,"a":"QRDQN","x":250,"y":-0.1,"e":0.03},{"p":5,"a":"QRDQN","x":300,"y":-0.02,"e":0.03},{"p":5,"a":"QRDQN","x":350,"y":0.05,"e":0.03},{"p":5,"a":"QRDQN","x":400,"y":0.2,"e":0.03},{"p":5,"a":"QRDQN","x":450,"y":0.28,"e":0.03},{"p":5,"a":"QRDQN","x":500,"y":0.3,"e":0.03},{"p":5,"a":"QRDQN","x":550,"y":0.42,"e":0.06},{"p":5,"a":"QRDQN","x":600,"y":0.57,"e":0.06},{"p":5,"a":"QRDQN","x":650,"y":0.68,"e":0.06},{"p":5,"a":"QRDQN","x":700,"y":0.7,"e":0.06},{"p":5,"a":"QRDQN","x":750,"y":0.76,"e":0.06},{"p":5,"a":"QRDQN","x":800,"y":0.82,"e":0.06},{"p":5,"a":"QRDQN","x":850,"y":0.84,"e":0.06},{"p":5,"a":"QRDQN","x":900,"y":0.95,"e":0.08},{"p":5,"a":"QRDQN","x":950,"y":1.05,"e":0.1},{"p":5,"a":"QRDQN","x":1000,"y":1.15,"e":0.1},{"p":5,"a":"QRDQN","x":1050,"y":1.2,"e":0.1},{"p":5,"a":"QRDQN","x":1100,"y":1.28,"e":0.12},{"p":5,"a":"QRDQN","x":1150,"y":1.45,"e":0.15},{"p":5,"a":"QRDQN","x":1200,"y":1.6,"e":0.2},{"p":5,"a":"QRDQN","x":1250,"y":1.68,"e":0.22},{"p":5,"a":"QRDQN","x":1300,"y":1.98,"e":0.15},{"p":5,"a":"QRDQN","x":1350,"y":2.22,"e":0.15},
{"p":5,"a":"IQN","x":0,"y":-0.25,"e":0.04},{"p":5,"a":"IQN","x":50,"y":-0.25,"e":0.04},{"p":5,"a":"IQN","x":100,"y":-0.25,"e":0.04},{"p":5,"a":"IQN","x":150,"y":-0.22,"e":0.04},{"p":5,"a":"IQN","x":200,"y":-0.2,"e":0.04},{"p":5,"a":"IQN","x":250,"y":-0.1,"e":0.04},{"p":5,"a":"IQN","x":300,"y":0.0,"e":0.04},{"p":5,"a":"IQN","x":350,"y":0.1,"e":0.04},{"p":5,"a":"IQN","x":400,"y":0.25,"e":0.04},{"p":5,"a":"IQN","x":450,"y":0.35,"e":0.08},{"p":5,"a":"IQN","x":500,"y":0.48,"e":0.08},{"p":5,"a":"IQN","x":550,"y":0.75,"e":0.08},{"p":5,"a":"IQN","x":600,"y":0.8,"e":0.08},{"p":5,"a":"IQN","x":650,"y":0.85,"e":0.08},{"p":5,"a":"IQN","x":700,"y":0.93,"e":0.08},{"p":5,"a":"IQN","x":750,"y":1.03,"e":0.08},{"p":5,"a":"IQN","x":800,"y":1.15,"e":0.08},{"p":5,"a":"IQN","x":850,"y":1.3,"e":0.1},{"p":5,"a":"IQN","x":900,"y":1.6,"e":0.08},{"p":5,"a":"IQN","x":950,"y":2.15,"e":0.12},{"p":5,"a":"IQN","x":1000,"y":2.45,"e":0.1},{"p":5,"a":"IQN","x":1050,"y":2.55,"e":0.45},{"p":5,"a":"IQN","x":1100,"y":3.08,"e":0.3},{"p":5,"a":"IQN","x":1150,"y":2.95,"e":0.6},{"p":5,"a":"IQN","x":1200,"y":2.75,"e":0.15},{"p":5,"a":"IQN","x":1250,"y":2.95,"e":0.35},{"p":5,"a":"IQN","x":1300,"y":3.1,"e":0.45},{"p":5,"a":"IQN","x":1350,"y":2.85,"e":0.55},
{"p":6,"a":"Dueling","x":0,"y":-0.145,"e":0.006},{"p":6,"a":"Dueling","x":50,"y":-0.09,"e":0.006},{"p":6,"a":"Dueling","x":100,"y":-0.03,"e":0.006},{"p":6,"a":"Dueling","x":150,"y":-0.01,"e":0.006},{"p":6,"a":"Dueling","x":200,"y":-0.003,"e":0.006},{"p":6,"a":"Dueling","x":250,"y":0.0,"e":0.006},{"p":6,"a":"Dueling","x":300,"y":0.007,"e":0.006},{"p":6,"a":"Dueling","x":350,"y":0.02,"e":0.006},{"p":6,"a":"Dueling","x":400,"y":0.036,"e":0.006},{"p":6,"a":"Dueling","x":450,"y":0.04,"e":0.006},{"p":6,"a":"Dueling","x":500,"y":0.036,"e":0.006},{"p":6,"a":"Dueling","x":550,"y":0.068,"e":0.006},{"p":6,"a":"Dueling","x":600,"y":0.085,"e":0.006},{"p":6,"a":"Dueling","x":650,"y":0.095,"e":0.006},{"p":6,"a":"Dueling","x":700,"y":0.106,"e":0.006},{"p":6,"a":"Dueling","x":750,"y":0.107,"e":0.006},{"p":6,"a":"Dueling","x":800,"y":0.104,"e":0.006},{"p":6,"a":"Dueling","x":850,"y":0.126,"e":0.006},{"p":6,"a":"Dueling","x":900,"y":0.12,"e":0.006},{"p":6,"a":"Dueling","x":950,"y":0.129,"e":0.006},{"p":6,"a":"Dueling","x":1000,"y":0.125,"e":0.006},{"p":6,"a":"Dueling","x":1050,"y":0.136,"e":0.006},{"p":6,"a":"Dueling","x":1100,"y":0.125,"e":0.006},{"p":6,"a":"Dueling","x":1150,"y":0.128,"e":0.006},{"p":6,"a":"Dueling","x":1200,"y":0.136,"e":0.006},{"p":6,"a":"Dueling","x":1250,"y":0.14,"e":0.006},{"p":6,"a":"Dueling","x":1300,"y":0.145,"e":0.006},{"p":6,"a":"Dueling","x":1350,"y":0.134,"e":0.006},
{"p":6,"a":"C51","x":0,"y":-0.105,"e":0.008},{"p":6,"a":"C51","x":50,"y":-0.115,"e":0.008},{"p":6,"a":"C51","x":100,"y":-0.105,"e":0.008},{"p":6,"a":"C51","x":150,"y":-0.105,"e":0.008},{"p":6,"a":"C51","x":200,"y":-0.097,"e":0.008},{"p":6,"a":"C51","x":250,"y":-0.113,"e":0.008},{"p":6,"a":"C51","x":300,"y":-0.065,"e":0.008},{"p":6,"a":"C51","x":350,"y":-0.08,"e":0.008},{"p":6,"a":"C51","x":400,"y":-0.102,"e":0.008},{"p":6,"a":"C51","x":450,"y":-0.055,"e":0.008},{"p":6,"a":"C51","x":500,"y":-0.038,"e":0.008},{"p":6,"a":"C51","x":550,"y":-0.028,"e":0.008},{"p":6,"a":"C51","x":600,"y":-0.018,"e":0.006},{"p":6,"a":"C51","x":650,"y":-0.012,"e":0.004},{"p":6,"a":"C51","x":700,"y":-0.01,"e":0.003},{"p":6,"a":"C51","x":750,"y":-0.009,"e":0.003},{"p":6,"a":"C51","x":800,"y":-0.004,"e":0.003},{"p":6,"a":"C51","x":850,"y":-0.001,"e":0.002},{"p":6,"a":"C51","x":900,"y":-0.001,"e":0.002},{"p":6,"a":"C51","x":950,"y":-0.002,"e":0.002},{"p":6,"a":"C51","x":1000,"y":0.0,"e":0.002},{"p":6,"a":"C51","x":1050,"y":0.0,"e":0.002},{"p":6,"a":"C51","x":1100,"y":0.0,"e":0.002},{"p":6,"a":"C51","x":1150,"y":0.0,"e":0.002},{"p":6,"a":"C51","x":1200,"y":0.003,"e":0.002},{"p":6,"a":"C51","x":1250,"y":0.0,"e":0.002},{"p":6,"a":"C51","x":1300,"y":0.011,"e":0.002},{"p":6,"a":"C51","x":1350,"y":0.003,"e":0.002},
{"p":6,"a":"QRDQN","x":0,"y":-0.122,"e":0.006},{"p":6,"a":"QRDQN","x":50,"y":-0.115,"e":0.006},{"p":6,"a":"QRDQN","x":100,"y":-0.098,"e":0.006},{"p":6,"a":"QRDQN","x":150,"y":-0.105,"e":0.006},{"p":6,"a":"QRDQN","x":200,"y":-0.053,"e":0.006},{"p":6,"a":"QRDQN","x":250,"y":-0.053,"e":0.006},{"p":6,"a":"QRDQN","x":300,"y":-0.075,"e":0.006},{"p":6,"a":"QRDQN","x":350,"y":-0.037,"e":0.006},{"p":6,"a":"QRDQN","x":400,"y":-0.032,"e":0.006},{"p":6,"a":"QRDQN","x":450,"y":-0.006,"e":0.006},{"p":6,"a":"QRDQN","x":500,"y":-0.004,"e":0.006},{"p":6,"a":"QRDQN","x":550,"y":-0.002,"e":0.006},{"p":6,"a":"QRDQN","x":600,"y":0.0,"e":0.004},{"p":6,"a":"QRDQN","x":650,"y":0.004,"e":0.003},{"p":6,"a":"QRDQN","x":700,"y":0.0,"e":0.003},{"p":6,"a":"QRDQN","x":750,"y":0.0,"e":0.003},{"p":6,"a":"QRDQN","x":800,"y":0.0,"e":0.003},{"p":6,"a":"QRDQN","x":850,"y":0.035,"e":0.005},{"p":6,"a":"QRDQN","x":900,"y":0.027,"e":0.003},{"p":6,"a":"QRDQN","x":950,"y":0.018,"e":0.003},{"p":6,"a":"QRDQN","x":1000,"y":0.009,"e":0.003},{"p":6,"a":"QRDQN","x":1050,"y":0.044,"e":0.005},{"p":6,"a":"QRDQN","x":1100,"y":0.032,"e":0.005},{"p":6,"a":"QRDQN","x":1150,"y":0.05,"e":0.006},{"p":6,"a":"QRDQN","x":1200,"y":0.058,"e":0.006},{"p":6,"a":"QRDQN","x":1250,"y":0.092,"e":0.006},{"p":6,"a":"QRDQN","x":1300,"y":0.075,"e":0.006},{"p":6,"a":"QRDQN","x":1350,"y":0.081,"e":0.006},
{"p":6,"a":"IQN","x":0,"y":-0.105,"e":0.01},{"p":6,"a":"IQN","x":50,"y":-0.095,"e":0.01},{"p":6,"a":"IQN","x":100,"y":-0.082,"e":0.01},{"p":6,"a":"IQN","x":150,"y":-0.105,"e":0.01},{"p":6,"a":"IQN","x":200,"y":-0.098,"e":0.01},{"p":6,"a":"IQN","x":250,"y":-0.085,"e":0.01},{"p":6,"a":"IQN","x":300,"y":-0.04,"e":0.008},{"p":6,"a":"IQN","x":350,"y":-0.013,"e":0.008},{"p":6,"a":"IQN","x":400,"y":-0.025,"e":0.008},{"p":6,"a":"IQN","x":450,"y":-0.008,"e":0.008},{"p":6,"a":"IQN","x":500,"y":-0.003,"e":0.008},{"p":6,"a":"IQN","x":550,"y":0.0,"e":0.008},{"p":6,"a":"IQN","x":600,"y":0.004,"e":0.008},{"p":6,"a":"IQN","x":650,"y":0.018,"e":0.008},{"p":6,"a":"IQN","x":700,"y":0.027,"e":0.008},{"p":6,"a":"IQN","x":750,"y":0.033,"e":0.008},{"p":6,"a":"IQN","x":800,"y":0.026,"e":0.008},{"p":6,"a":"IQN","x":850,"y":0.036,"e":0.008},{"p":6,"a":"IQN","x":900,"y":0.047,"e":0.008},{"p":6,"a":"IQN","x":950,"y":0.052,"e":0.008},{"p":6,"a":"IQN","x":1000,"y":0.055,"e":0.008},{"p":6,"a":"IQN","x":1050,"y":0.047,"e":0.008},{"p":6,"a":"IQN","x":1100,"y":0.052,"e":0.008},{"p":6,"a":"IQN","x":1150,"y":0.055,"e":0.008},{"p":6,"a":"IQN","x":1200,"y":0.06,"e":0.008},{"p":6,"a":"IQN","x":1250,"y":0.063,"e":0.008},{"p":6,"a":"IQN","x":1300,"y":0.068,"e":0.008},{"p":6,"a":"IQN","x":1350,"y":0.073,"e":0.008}
]},
"spacing":2,
"resolve":{"scale":{"color":"independent","strokeDash":"independent"}},
"vconcat":[
 {"spacing":2,"resolve":{"scale":{"color":"independent","strokeDash":"independent"}},
  "hconcat":[
   {"width":380,"height":162,"transform":[{"filter":"datum.p==1"}],"resolve":{"scale":{"color":"independent"}},
    "encoding":{"x":{"field":"x","type":"quantitative","scale":{"domain":[-0.384,10.27],"nice":false,"zero":false},"axis":{"values":[0,2,4,6,8,10],"title":"Environment Interactions (10⁴)"}},
     "y":{"field":"y","type":"quantitative","scale":{"domain":[-0.028,0.234],"nice":false,"zero":false},"axis":{"values":[0,0.1,0.2],"format":".1f","title":"Human Normalized Median Scores"}}},
    "layer":[
     {"mark":{"type":"errorband","opacity":0.3},"encoding":{"yError":{"field":"e"},"color":{"field":"a","type":"nominal","scale":{"domain":["Dueling","C51","QRDQN","IQN"],"range":["#1f77b4","#fa6b6b","#66b366","#eeaa78"]},"legend":null}}},
     {"mark":{"type":"line","strokeWidth":2},"encoding":{
      "color":{"field":"a","type":"nominal","scale":{"domain":["Dueling","C51","QRDQN","IQN"],"range":["#1f77b4","#fa6b6b","#66b366","#eeaa78"]},"legend":{"orient":"none","legendX":-20,"legendY":-31,"direction":"horizontal","columns":4,"title":null}},
      "strokeDash":{"field":"a","type":"nominal","scale":{"domain":["Dueling","C51","QRDQN","IQN"],"range":[[1,0],[1,0],[1,0],[2,3]]},"legend":{"orient":"none","legendX":-20,"legendY":-31,"direction":"horizontal","columns":4,"title":null}}}}
    ]},
   {"spacing":-1,"resolve":{"scale":{"color":"independent","strokeDash":"independent"}},
    "hconcat":[
     {"width":373,"height":164,"transform":[{"filter":"datum.p==2"}],"resolve":{"scale":{"color":"independent"}},
      "encoding":{"x":{"field":"x","type":"quantitative","scale":{"domain":[-0.4,10.27],"nice":false,"zero":false},"axis":{"values":[0,2,4,6,8,10],"title":"Environment Interactions (10⁴)"}},
       "y":{"field":"y","type":"quantitative","scale":{"domain":[-0.375,0.3635],"nice":false,"zero":false},"axis":{"values":[-0.2,0,0.2],"format":".1f","title":"Human Normalized Mean Scores"}}},
      "layer":[
       {"mark":{"type":"errorband","opacity":0.3},"encoding":{"yError":{"field":"e"},"color":{"field":"a","type":"nominal","scale":{"domain":["Dueling","C51","QRDQN","IQN"],"range":["#1f77b4","#fa6b6b","#66b366","#eeaa78"]},"legend":null}}},
       {"mark":{"type":"line","strokeWidth":2},"encoding":{
        "color":{"field":"a","type":"nominal","scale":{"domain":["Dueling","C51","QRDQN","IQN"],"range":["#1f77b4","#fa6b6b","#66b366","#eeaa78"]},"legend":{"orient":"none","legendX":-23,"legendY":-28,"direction":"horizontal","columns":4,"title":null}},
        "strokeDash":{"field":"a","type":"nominal","scale":{"domain":["Dueling","C51","QRDQN","IQN"],"range":[[1,0],[1,0],[1,0],[2,3]]},"legend":{"orient":"none","legendX":-23,"legendY":-28,"direction":"horizontal","columns":4,"title":null}}}}
      ]},
     {"width":345,"height":164,"transform":[{"filter":"datum.p==3"}],"resolve":{"scale":{"color":"independent"}},
      "encoding":{"x":{"field":"x","type":"quantitative","scale":{"domain":[-0.39,10.23],"nice":false,"zero":false},"axis":{"values":[0,2,4,6,8,10],"title":"Environment Interactions (10⁴)"}},
       "y":{"field":"y","type":"quantitative","scale":{"domain":[-0.0882,0.099],"nice":false,"zero":false},"axis":{"values":[-0.075,-0.05,-0.025,0,0.025,0.05,0.075],"format":".3f","title":"Human Normalized 20ᵗʰ Percentile"}}},
      "layer":[
       {"mark":{"type":"errorband","opacity":0.3},"encoding":{"yError":{"field":"e"},"color":{"field":"a","type":"nominal","scale":{"domain":["Dueling","C51","QRDQN","IQN"],"range":["#1f77b4","#fa6b6b","#66b366","#eeaa78"]},"legend":null}}},
       {"mark":{"type":"line","strokeWidth":2},"encoding":{
        "color":{"field":"a","type":"nominal","scale":{"domain":["Dueling","C51","QRDQN","IQN"],"range":["#1f77b4","#fa6b6b","#66b366","#eeaa78"]},"legend":{"orient":"none","legendX":-45,"legendY":-24,"direction":"horizontal","columns":4,"title":null}},
        "strokeDash":{"field":"a","type":"nominal","scale":{"domain":["Dueling","C51","QRDQN","IQN"],"range":[[1,0],[1,0],[1,0],[2,3]]},"legend":{"orient":"none","legendX":-45,"legendY":-24,"direction":"horizontal","columns":4,"title":null}}}}
      ]}
    ]}
  ]},
 {"spacing":0,"resolve":{"scale":{"color":"independent","strokeDash":"independent"}},
  "hconcat":[
   {"width":385,"height":157,"transform":[{"filter":"datum.p==4"}],"resolve":{"scale":{"color":"independent"}},
    "encoding":{"x":{"field":"x","type":"quantitative","scale":{"domain":[-80,1734],"nice":false,"zero":false},"axis":{"values":[0,250,500,750,1000,1250,1500],"format":"d","title":"Environment Interactions (10⁴)"}},
     "y":{"field":"y","type":"quantitative","scale":{"domain":[-0.07,0.8676],"nice":false,"zero":false},"axis":{"values":[0,0.2,0.4,0.6,0.8],"format":".1f","title":"Human Normalized Median Scores"}}},
    "layer":[
     {"mark":{"type":"errorband","opacity":0.3},"encoding":{"yError":{"field":"e"},"color":{"field":"a","type":"nominal","scale":{"domain":["Dueling","C51","QRDQN","IQN"],"range":["#1f77b4","#fa6b6b","#66b366","#eeaa78"]},"legend":null}}},
     {"mark":{"type":"line","strokeWidth":2},"encoding":{
      "color":{"field":"a","type":"nominal","scale":{"domain":["Dueling","C51","QRDQN","IQN"],"range":["#1f77b4","#fa6b6b","#66b366","#eeaa78"]},"legend":{"orient":"none","legendX":-20,"legendY":-31,"direction":"horizontal","columns":4,"title":null}},
      "strokeDash":{"field":"a","type":"nominal","scale":{"domain":["Dueling","C51","QRDQN","IQN"],"range":[[1,0],[1,0],[1,0],[2,3]]},"legend":{"orient":"none","legendX":-20,"legendY":-31,"direction":"horizontal","columns":4,"title":null}}}}
    ]},
   {"spacing":3,"resolve":{"scale":{"color":"independent","strokeDash":"independent"}},
    "hconcat":[
     {"width":394,"height":159,"transform":[{"filter":"datum.p==5"}],"resolve":{"scale":{"color":"independent"}},
      "encoding":{"x":{"field":"x","type":"quantitative","scale":{"domain":[-67,1420],"nice":false,"zero":false},"axis":{"values":[0,200,400,600,800,1000,1200,1400],"format":"d","title":"Environment Interactions (10⁴)"}},
       "y":{"field":"y","type":"quantitative","scale":{"domain":[-0.533,3.856],"nice":false,"zero":false},"axis":{"values":[0,1,2,3],"format":"d","title":"Human Normalized Mean Scores"}}},
      "layer":[
       {"mark":{"type":"errorband","opacity":0.3},"encoding":{"yError":{"field":"e"},"color":{"field":"a","type":"nominal","scale":{"domain":["Dueling","C51","QRDQN","IQN"],"range":["#1f77b4","#fa6b6b","#66b366","#eeaa78"]},"legend":null}}},
       {"mark":{"type":"line","strokeWidth":2},"encoding":{
        "color":{"field":"a","type":"nominal","scale":{"domain":["Dueling","C51","QRDQN","IQN"],"range":["#1f77b4","#fa6b6b","#66b366","#eeaa78"]},"legend":{"orient":"none","legendX":-7,"legendY":-31,"direction":"horizontal","columns":4,"title":null}},
        "strokeDash":{"field":"a","type":"nominal","scale":{"domain":["Dueling","C51","QRDQN","IQN"],"range":[[1,0],[1,0],[1,0],[2,3]]},"legend":{"orient":"none","legendX":-7,"legendY":-31,"direction":"horizontal","columns":4,"title":null}}}}
      ]},
     {"width":350,"height":160,"transform":[{"filter":"datum.p==6"}],"resolve":{"scale":{"color":"independent"}},
      "encoding":{"x":{"field":"x","type":"quantitative","scale":{"domain":[-67,1403],"nice":false,"zero":false},"axis":{"values":[0,200,400,600,800,1000,1200,1400],"format":"d","title":"Environment Interactions (10⁴)"}},
       "y":{"field":"y","type":"quantitative","scale":{"domain":[-0.176,0.219],"nice":false,"zero":false},"axis":{"values":[-0.15,-0.1,-0.05,0,0.05,0.1,0.15,0.2],"format":".2f","title":"Human Normalized 20ᵗʰ Percentile"}}},
      "layer":[
       {"mark":{"type":"errorband","opacity":0.3},"encoding":{"yError":{"field":"e"},"color":{"field":"a","type":"nominal","scale":{"domain":["Dueling","C51","QRDQN","IQN"],"range":["#1f77b4","#fa6b6b","#66b366","#eeaa78"]},"legend":null}}},
       {"mark":{"type":"line","strokeWidth":2},"encoding":{
        "color":{"field":"a","type":"nominal","scale":{"domain":["Dueling","C51","QRDQN","IQN"],"range":["#1f77b4","#fa6b6b","#66b366","#eeaa78"]},"legend":{"orient":"none","legendX":-27,"legendY":-26,"direction":"horizontal","columns":4,"title":null}},
        "strokeDash":{"field":"a","type":"nominal","scale":{"domain":["Dueling","C51","QRDQN","IQN"],"range":[[1,0],[1,0],[1,0],[2,3]]},"legend":{"orient":"none","legendX":-27,"legendY":-26,"direction":"horizontal","columns":4,"title":null}}}}
      ]}
    ]}
  ]}
]
}
